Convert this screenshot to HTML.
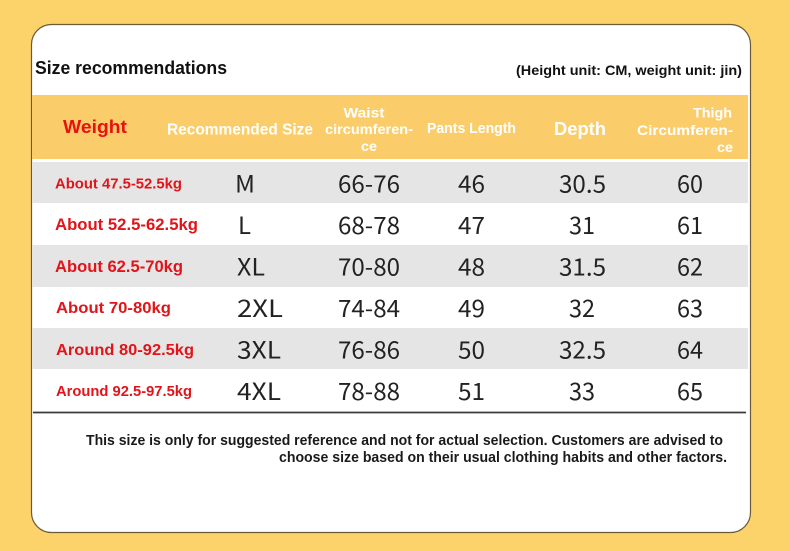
<!DOCTYPE html>
<html><head><meta charset="utf-8"><style>
html,body{margin:0;padding:0;background:#FCD26B;}
svg{display:block;}
</style></head><body>
<svg width="790" height="551" viewBox="0 0 790 551" xmlns="http://www.w3.org/2000/svg">
<rect x="0" y="0" width="790" height="551" fill="#FCD26B"/>
<rect x="31.5" y="24.5" width="719" height="508" rx="20" ry="20" fill="#FFFFFF" stroke="#6b5a3a" stroke-width="1.2"/>
<!-- header band -->
<rect x="32" y="95" width="716" height="64" fill="#FACD6A"/>
<!-- rows -->
<rect x="32" y="162" width="716" height="41" fill="#E5E5E5"/>
<rect x="32" y="245" width="716" height="42" fill="#E5E5E5"/>
<rect x="32" y="328" width="716" height="41" fill="#E5E5E5"/>
<line x1="33" y1="412.5" x2="746" y2="412.5" stroke="#3a3a3a" stroke-width="1.8"/>

<g font-family="'Liberation Sans', sans-serif" font-weight="bold">
<text x="35" y="74" font-size="18" fill="#111" textLength="192" lengthAdjust="spacingAndGlyphs">Size recommendations</text>
<text x="516" y="75" font-size="14" fill="#111" textLength="226" lengthAdjust="spacingAndGlyphs">(Height unit: CM, weight unit: jin)</text>

<text x="63" y="133" font-size="18.5" fill="#E8120F" textLength="64" lengthAdjust="spacingAndGlyphs">Weight</text>
<g fill="#FFFFFF">
<text x="167" y="134.5" font-size="15.5" textLength="146" lengthAdjust="spacingAndGlyphs">Recommended Size</text>
<text x="364" y="117.5" font-size="14" text-anchor="middle" textLength="41" lengthAdjust="spacingAndGlyphs">Waist</text>
<text x="325" y="134" font-size="14" textLength="88" lengthAdjust="spacingAndGlyphs">circumferen-</text>
<text x="369" y="151" font-size="14" text-anchor="middle" textLength="16" lengthAdjust="spacingAndGlyphs">ce</text>
<text x="427" y="133" font-size="14.5" textLength="89" lengthAdjust="spacingAndGlyphs">Pants Length</text>
<text x="554" y="135" font-size="18" textLength="52" lengthAdjust="spacingAndGlyphs">Depth</text>
<text x="732" y="117.5" font-size="14" text-anchor="end" textLength="39" lengthAdjust="spacingAndGlyphs">Thigh</text>
<text x="733" y="135" font-size="14" text-anchor="end" textLength="96" lengthAdjust="spacingAndGlyphs">Circumferen-</text>
<text x="733" y="152" font-size="14" text-anchor="end" textLength="16" lengthAdjust="spacingAndGlyphs">ce</text>
</g>

<g fill="#E2141A">
<text x="55" y="188.5" font-size="14.5" textLength="127" lengthAdjust="spacingAndGlyphs">About 47.5-52.5kg</text>
<text x="55" y="230" font-size="16.5" textLength="143" lengthAdjust="spacingAndGlyphs">About 52.5-62.5kg</text>
<text x="55" y="272" font-size="16.5" textLength="128" lengthAdjust="spacingAndGlyphs">About 62.5-70kg</text>
<text x="56" y="313" font-size="16" textLength="115" lengthAdjust="spacingAndGlyphs">About 70-80kg</text>
<text x="56" y="355" font-size="16" textLength="138" lengthAdjust="spacingAndGlyphs">Around 80-92.5kg</text>
<text x="56" y="396" font-size="14.5" textLength="136" lengthAdjust="spacingAndGlyphs">Around 92.5-97.5kg</text>
</g>

<g fill="#1a1a1a" font-size="14.5">
<text x="86" y="445" textLength="637" lengthAdjust="spacingAndGlyphs">This size is only for suggested reference and not for actual selection. Customers are advised to</text>
<text x="279" y="462" textLength="448" lengthAdjust="spacingAndGlyphs">choose size based on their usual clothing habits and other factors.</text>
</g>
</g>

<g font-family="'Noto Sans CJK SC', 'Liberation Sans', sans-serif" font-weight="normal" fill="#222" font-size="24">
<!-- size column -->
<text x="235" y="192.5" textLength="20" lengthAdjust="spacingAndGlyphs">M</text>
<text x="238" y="234" textLength="13" lengthAdjust="spacingAndGlyphs">L</text>
<text x="237" y="275.5" textLength="28" lengthAdjust="spacingAndGlyphs">XL</text>
<text x="237" y="317" textLength="46" lengthAdjust="spacingAndGlyphs">2XL</text>
<text x="237" y="358.5" textLength="44" lengthAdjust="spacingAndGlyphs">3XL</text>
<text x="237" y="400" textLength="44" lengthAdjust="spacingAndGlyphs">4XL</text>

<g text-anchor="middle">
<text x="369" y="192.5" textLength="62" lengthAdjust="spacingAndGlyphs">66-76</text>
<text x="369" y="234" textLength="62" lengthAdjust="spacingAndGlyphs">68-78</text>
<text x="369" y="275.5" textLength="62" lengthAdjust="spacingAndGlyphs">70-80</text>
<text x="369" y="317" textLength="62" lengthAdjust="spacingAndGlyphs">74-84</text>
<text x="369" y="358.5" textLength="62" lengthAdjust="spacingAndGlyphs">76-86</text>
<text x="369" y="400" textLength="62" lengthAdjust="spacingAndGlyphs">78-88</text>

<text x="471.5" y="192.5" textLength="27" lengthAdjust="spacingAndGlyphs">46</text>
<text x="471.5" y="234" textLength="27" lengthAdjust="spacingAndGlyphs">47</text>
<text x="471.5" y="275.5" textLength="27" lengthAdjust="spacingAndGlyphs">48</text>
<text x="471.5" y="317" textLength="27" lengthAdjust="spacingAndGlyphs">49</text>
<text x="471.5" y="358.5" textLength="27" lengthAdjust="spacingAndGlyphs">50</text>
<text x="471.5" y="400" textLength="27" lengthAdjust="spacingAndGlyphs">51</text>

<text x="582.5" y="192.5" textLength="47" lengthAdjust="spacingAndGlyphs">30.5</text>
<text x="582" y="234" textLength="26" lengthAdjust="spacingAndGlyphs">31</text>
<text x="582.5" y="275.5" textLength="47" lengthAdjust="spacingAndGlyphs">31.5</text>
<text x="582" y="317" textLength="26" lengthAdjust="spacingAndGlyphs">32</text>
<text x="582.5" y="358.5" textLength="47" lengthAdjust="spacingAndGlyphs">32.5</text>
<text x="582" y="400" textLength="26" lengthAdjust="spacingAndGlyphs">33</text>

<text x="690" y="192.5" textLength="26" lengthAdjust="spacingAndGlyphs">60</text>
<text x="690" y="234" textLength="26" lengthAdjust="spacingAndGlyphs">61</text>
<text x="690" y="275.5" textLength="26" lengthAdjust="spacingAndGlyphs">62</text>
<text x="690" y="317" textLength="26" lengthAdjust="spacingAndGlyphs">63</text>
<text x="690" y="358.5" textLength="26" lengthAdjust="spacingAndGlyphs">64</text>
<text x="690" y="400" textLength="26" lengthAdjust="spacingAndGlyphs">65</text>
</g>
</g>
</svg>
</body></html>
